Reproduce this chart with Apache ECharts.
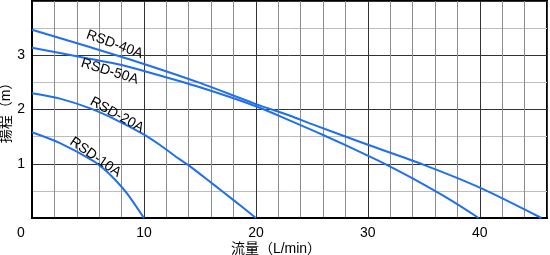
<!DOCTYPE html>
<html>
<head>
<meta charset="utf-8">
<script src="https://cdn.jsdelivr.net/npm/echarts@6/dist/echarts.min.js"></script>
<style>
html,body{margin:0;padding:0;background:#fff;}
#chart{width:550px;height:255px;}
</style>
</head>
<body>
<div id="chart"></div>
<script>
// 流量 (L/min), 揚程 (m)
var rsd40a = [[0,3.47],[5,3.16],[10,2.84],[15,2.49],[20,2.10],[23,1.89],[25,1.73],[30,1.35],[35,0.98],[40,0.56],[45.5,0]];
var rsd50a = [[0,3.14],[5,2.94],[7.8,2.83],[10,2.71],[15,2.41],[20,2.06],[23,1.80],[26,1.53],[29.9,1.16],[31.6,0.99],[34,0.73],[37.4,0.33],[39.9,0]];
var rsd20a = [[0,2.30],[2.5,2.20],[5.2,2.02],[7.5,1.81],[9.9,1.55],[11.4,1.35],[13.2,1.08],[14,0.97],[16.2,0.62],[18,0.33],[20,0]];
var rsd10a = [[0,1.58],[2.5,1.38],[5.5,1.05],[6.5,0.89],[7.4,0.71],[8.5,0.45],[10,0]];
var seriesNames = ['RSD-40A','RSD-50A','RSD-20A','RSD-10A'];
var xTicks = [0,10,20,30,40];
var yTicks = [1,2,3];

var font = '"Liberation Sans", Arial, "Noto Sans CJK JP", sans-serif';
var blue = '#1f6ff2';

function curve(name, data, at, angle){
    return {
        name: name,
        type: 'line',
        xAxisIndex: 1,
        yAxisIndex: 1,
        data: data,
        smooth: 0.3,
        showSymbol: false,
        lineStyle: {color: blue, width: 2},
        markPoint: {
            symbol: 'circle',
            symbolSize: 0,
            silent: true,
            label: {
                show: true,
                position: 'inside',
                formatter: name,
                rotate: angle,
                color: '#000',
                fontSize: 14,
                fontFamily: font
            },
            data: [{coord: at}]
        }
    };
}

var myChart = echarts.init(document.getElementById('chart'));
var option = {
    animation: false,
    grid: {
        left: 32, right: 3, top: 1, bottom: 37,
        outerBoundsMode: 'none',
        containLabel: false,
        show: true,
        borderColor: '#000',
        borderWidth: 2
    },
    xAxis: [
        {
            type: 'value', min: 0, max: 46, interval: 2, position: 'bottom',
            axisLine: {show: false}, axisTick: {show: false}, axisLabel: {show: false},
            splitLine: {lineStyle: {color: '#8c8c8c', width: 1}}
        },
        {
            type: 'value', min: 0, max: 46, interval: 10, position: 'bottom',
            name: '流量（L/min）',
            nameLocation: 'middle',
            nameGap: 24,
            nameMoveOverlap: false,
            nameTextStyle: {color: '#000', fontSize: 14, fontFamily: font, padding: [0, 27, 0, 0]},
            axisLine: {show: true, lineStyle: {color: '#000', width: 2}},
            axisTick: {show: false},
            axisLabel: {
                margin: 8,
                color: '#000', fontSize: 14, fontFamily: font,
                showMaxLabel: false,
                formatter: function(v){
                    if (xTicks.indexOf(v) < 0) return '';
                    return v === 0 ? '{o|0}' : String(v);
                },
                rich: {o: {padding: [0, 22, 0, 0], fontSize: 14, fontFamily: font, color: '#000'}}
            },
            splitLine: {lineStyle: {color: '#333', width: 1}}
        }
    ],
    yAxis: [
        {
            type: 'value', min: 0, max: 4, interval: 0.5, position: 'left',
            axisLine: {show: false}, axisTick: {show: false}, axisLabel: {show: false},
            splitLine: {lineStyle: {color: '#bdbdbd', width: 1}}
        },
        {
            type: 'value', min: 0, max: 4, interval: 1, position: 'left',
            name: '揚程（m）',
            nameLocation: 'middle',
            nameGap: 19,
            nameMoveOverlap: false,
            nameTextStyle: {color: '#000', fontSize: 14, fontFamily: font},
            axisLine: {show: true, lineStyle: {color: '#000', width: 2}},
            axisTick: {show: false},
            axisLabel: {
                margin: 7,
                color: '#000', fontSize: 14, fontFamily: font,
                formatter: function(v){ return yTicks.indexOf(v) < 0 ? '' : String(v); }
            },
            splitLine: {lineStyle: {color: '#333', width: 1}}
        }
    ],
    series: [
        curve(seriesNames[0], rsd40a, [7.38, 3.20], -20),
        curve(seriesNames[1], rsd50a, [6.94, 2.70], -17),
        curve(seriesNames[2], rsd20a, [7.59, 1.90], -29),
        curve(seriesNames[3], rsd10a, [5.66, 1.12], -35)
    ]
};
myChart.setOption(option);
</script>
</body>
</html>
